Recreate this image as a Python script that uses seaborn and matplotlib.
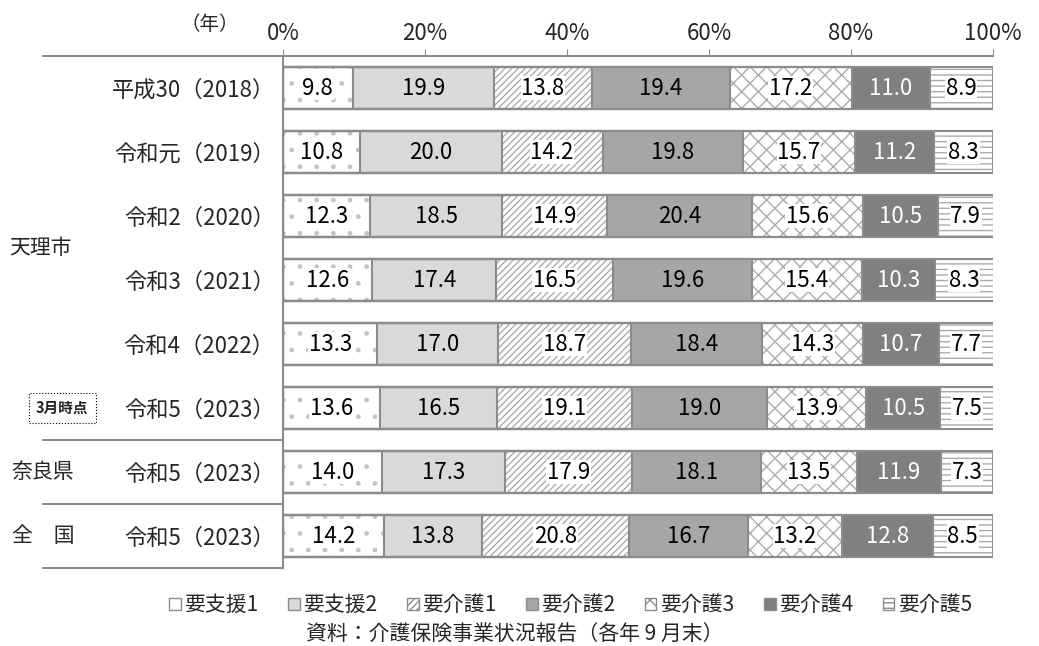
import matplotlib
matplotlib.use('Agg')
import matplotlib.pyplot as plt
import matplotlib.patches as mpatches
import matplotlib.transforms as mtransforms
import seaborn as sns
import pandas as pd
import numpy as np

# data
row_keys = ['h30', 'r1', 'r2', 'r3', 'r4', 'r5', 'nara', 'zenkoku']
year_labels = ['平成30（2018）', '令和元（2019）', '令和2（2020）', '令和3（2021）',
               '令和4（2022）', '令和5（2023）', '令和5（2023）', '令和5（2023）']
levels = ['要支援1', '要支援2', '要介護1', '要介護2', '要介護3', '要介護4', '要介護5']
shien1 = [9.8, 10.8, 12.3, 12.6, 13.3, 13.6, 14.0, 14.2]
shien2 = [19.9, 20.0, 18.5, 17.4, 17.0, 16.5, 17.3, 13.8]
kaigo1 = [13.8, 14.2, 14.9, 16.5, 18.7, 19.1, 17.9, 20.8]
kaigo2 = [19.4, 19.8, 20.4, 19.6, 18.4, 19.0, 18.1, 16.7]
kaigo3 = [17.2, 15.7, 15.6, 15.4, 14.3, 13.9, 13.5, 13.2]
kaigo4 = [11.0, 11.2, 10.5, 10.3, 10.7, 10.5, 11.9, 12.8]
kaigo5 = [8.9, 8.3, 7.9, 8.3, 7.7, 7.5, 7.3, 8.5]
x_ticks = [0, 20, 40, 60, 80, 100]

sns.set_style('white')
plt.rcParams['font.family'] = ['Noto Sans CJK JP', 'DejaVu Sans']
plt.rcParams['hatch.linewidth'] = 1.0

df = pd.DataFrame({'row': row_keys, '要支援1': shien1, '要支援2': shien2,
                   '要介護1': kaigo1, '要介護2': kaigo2, '要介護3': kaigo3,
                   '要介護4': kaigo4, '要介護5': kaigo5})
cum = df[levels].cumsum(axis=1)

edge = '#8c8c8c'
faces = ['white', '#d9d9d9', 'white', '#a6a6a6', 'white', '#808080', 'white']
hatches = ['.', None, '/////', None, 'xx', None, '---']
hatch_cols = ['#c4c4c4', edge, '#ababab', edge, '#ababab', edge, '#ababab']
text_colors = ['black', 'black', 'black', 'black', 'black', 'white', 'black']

fig = plt.figure(figsize=(10.39, 6.46), dpi=100)
ax = fig.add_axes([0.2724, 0.1207, 0.6833, 0.7926])

# stacked bars: draw cumulative totals from the right-most level down
for i in range(len(levels) - 1, -1, -1):
    sns.barplot(x=cum[levels[i]], y=df['row'], orient='h', color=faces[i],
                saturation=1, width=0.67, edgecolor=hatch_cols[i], linewidth=0,
                hatch=hatches[i], ax=ax)

# gray outlines on top of every segment
for p in list(ax.patches):
    ax.add_patch(mpatches.Rectangle(p.get_xy(), p.get_width(), p.get_height(),
                                    fill=False, ec=edge, lw=1.5))

for i, lev in enumerate(levels):
    mids = cum[lev] - df[lev] / 2
    for j in range(len(row_keys)):
        bbox = None
        if hatches[i] is not None:
            bbox = dict(boxstyle='square,pad=0.03', fc='white', ec='none')
        ax.text(mids[j], j, f'{df[lev][j]:.1f}', ha='center', va='center',
                fontsize=16, color=text_colors[i], bbox=bbox)

ax.set_xlim(0, 100)
ax.set_ylim(7.5, -0.5)
ax.xaxis.tick_top()
ax.set_xticks(x_ticks)
ax.set_xticklabels([f'{t}%' for t in x_ticks], fontsize=16)
ax.tick_params(axis='x', direction='out', length=5, color=edge, pad=3)
ax.set_yticks(range(len(row_keys)))
ax.set_yticklabels(year_labels, fontsize=16)
ax.tick_params(axis='y', length=0, pad=6)
ax.set_xlabel('')
ax.set_ylabel('')
for s in ['right', 'bottom']:
    ax.spines[s].set_visible(False)
for s in ['top', 'left']:
    ax.spines[s].set_color(edge)
    ax.spines[s].set_linewidth(1.5)

# left table lines and group labels
trans = mtransforms.blended_transform_factory(ax.transAxes, ax.transData)
for yy in [-0.5, 5.5, 6.5, 7.5]:
    ax.plot([-0.338, 0], [yy, yy], color=edge, lw=1.5, transform=trans, clip_on=False)
ax.text(-0.386, 2.5, '天理市', ha='left', va='center', fontsize=15, transform=trans)
ax.text(-0.311, 5, '3月時点', ha='center', va='center', fontsize=10.5, fontweight='bold',
        transform=trans,
        bbox=dict(boxstyle='square,pad=0.5', fc='white', ec='black', ls=':', lw=0.8))
ax.text(-0.338, 6, '奈良県', ha='center', va='center', fontsize=15, transform=trans)
ax.text(-0.338, 7, '全\u3000国', ha='center', va='center', fontsize=15, transform=trans)
fig.text(0.202, 0.962, '（年）', ha='center', va='center', fontsize=14)

handles = [mpatches.Patch(facecolor=faces[i], edgecolor=edge, hatch=hatches[i], label=levels[i])
           for i in range(len(levels))]
fig.legend(handles=handles, loc='center', bbox_to_anchor=(0.549, 0.063), ncol=7,
           frameon=False, fontsize=15, handlelength=0.55, handleheight=0.55,
           handletextpad=0.15, columnspacing=1.45)
fig.text(0.495, 0.018, '資料：介護保険事業状況報告（各年 9 月末）', ha='center', va='center', fontsize=15)

fig.savefig('out.png', dpi=100)
